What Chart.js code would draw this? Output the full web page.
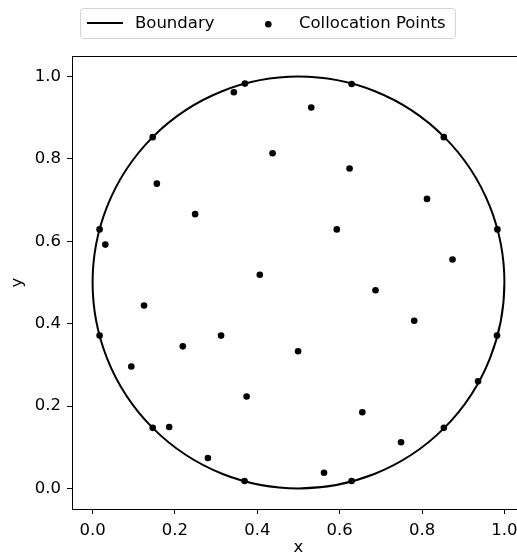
<!DOCTYPE html>
<html>
<head>
<meta charset="utf-8">
<script src="https://cdn.jsdelivr.net/npm/chart.js@4.4.1/dist/chart.umd.min.js"></script>
<style>
  html, body { margin: 0; padding: 0; background: #fff; overflow: hidden; }
  #wrap { position: absolute; left: 0; top: 0; width: 530px; height: 556px; }
</style>
</head>
<body>
<div id="wrap"><canvas id="collocation"></canvas></div>
<script>
// tick labels on both axes
const xTicks = [0.0, 0.2, 0.4, 0.6, 0.8, 1.0];
const yTicks = [0.0, 0.2, 0.4, 0.6, 0.8, 1.0];

// boundary circle
const circleCenter = [0.5, 0.5];
const circleRadius = 0.5;

// collocation points
const pointsX = [0.370, 0.629, 0.146, 0.853, 0.017, 0.983, 0.017, 0.982, 0.146, 0.853, 0.369, 0.629, 0.936,
                 0.343, 0.437, 0.156, 0.249, 0.031, 0.406, 0.531, 0.624, 0.812, 0.593, 0.874, 0.125,
                 0.312, 0.219, 0.094, 0.499, 0.374, 0.186, 0.280, 0.687, 0.781, 0.655, 0.749, 0.562];
const pointsY = [0.983, 0.982, 0.853, 0.853, 0.629, 0.629, 0.371, 0.371, 0.147, 0.147, 0.018, 0.018, 0.260,
                 0.962, 0.814, 0.740, 0.666, 0.592, 0.519, 0.925, 0.777, 0.703, 0.629, 0.556, 0.444,
                 0.371, 0.345, 0.296, 0.333, 0.223, 0.149, 0.074, 0.481, 0.407, 0.185, 0.112, 0.038];

const FONT = '"DejaVu Sans", sans-serif';
Chart.defaults.font.family = FONT;
Chart.defaults.font.size = 16.5;
Chart.defaults.color = '#000';

// circle drawn through the chart's scales, under the points
const boundaryPlugin = {
  id: 'boundary',
  beforeDatasetsDraw(chart) {
    const {ctx, scales: {x, y}} = chart;
    const cx = x.getPixelForValue(circleCenter[0]);
    const cy = y.getPixelForValue(circleCenter[1]);
    const rx = x.getPixelForValue(circleCenter[0] + circleRadius) - cx;
    const ry = cy - y.getPixelForValue(circleCenter[1] + circleRadius);
    ctx.save();
    ctx.beginPath();
    ctx.ellipse(cx, cy, rx, ry, 0, 0, Math.PI * 2);
    ctx.strokeStyle = '#000';
    ctx.lineWidth = 2;
    ctx.stroke();
    ctx.restore();
  }
};

// axes frame + matplotlib style legend box
const framePlugin = {
  id: 'frame',
  afterDraw(chart) {
    const {ctx, chartArea: a} = chart;
    ctx.save();
    ctx.strokeStyle = '#000';
    ctx.lineWidth = 1;
    ctx.strokeRect(a.left + 0.5, a.top + 0.5, a.right - a.left, a.bottom - a.top);

    // legend
    const bx = 80.5, by = 8.5, bw = 375, bh = 30, r = 3;
    ctx.beginPath();
    ctx.roundRect(bx, by, bw, bh, r);
    ctx.fillStyle = 'rgba(255,255,255,0.8)';
    ctx.fill();
    ctx.strokeStyle = '#d5d5d5';
    ctx.stroke();

    ctx.beginPath();
    ctx.moveTo(87, 23);
    ctx.lineTo(123, 23);
    ctx.strokeStyle = '#000';
    ctx.lineWidth = 2;
    ctx.stroke();

    ctx.beginPath();
    ctx.arc(268.3, 24.3, 3.3, 0, Math.PI * 2);
    ctx.fillStyle = '#000';
    ctx.fill();

    ctx.font = '16.5px ' + FONT;
    ctx.textBaseline = 'middle';
    ctx.textAlign = 'left';
    ctx.fillText('Boundary', 135, 24);
    ctx.fillText('Collocation Points', 299, 24);
    ctx.restore();
  }
};

new Chart(document.getElementById('collocation'), {
  type: 'scatter',
  data: {
    datasets: [{
      label: 'Collocation Points',
      data: pointsX.map((v, i) => ({x: v, y: pointsY[i]})),
      backgroundColor: '#000',
      borderColor: '#000',
      pointRadius: 3.3,
      pointBorderWidth: 0,
      pointHoverRadius: 3.3
    }]
  },
  options: {
    responsive: true,
    maintainAspectRatio: false,
    animation: false,
    events: [],
    layout: {padding: {top: 56, right: 5, left: 0, bottom: 0}},
    plugins: {legend: {display: false}, tooltip: {enabled: false}},
    scales: {
      x: {
        type: 'linear',
        min: -0.05,
        max: 1.05,
        afterBuildTicks: s => { s.ticks = xTicks.map(v => ({value: v})); },
        afterFit: s => { s.height = 47; },
        ticks: {padding: 7, callback: v => v.toFixed(1), maxRotation: 0, autoSkip: false},
        grid: {drawOnChartArea: false, drawTicks: true, tickLength: 5, color: '#000'},
        border: {display: false},
        title: {display: true, text: 'x', padding: {top: 0, bottom: -2}}
      },
      y: {
        type: 'linear',
        min: -0.05,
        max: 1.05,
        afterBuildTicks: s => { s.ticks = yTicks.map(v => ({value: v})); },
        afterFit: s => { s.width = 72; },
        ticks: {padding: 6, callback: v => v.toFixed(1), autoSkip: false},
        grid: {drawOnChartArea: false, drawTicks: true, tickLength: 5, color: '#000'},
        border: {display: false},
        title: {display: true, text: 'y', padding: {top: 8, bottom: 0}}
      }
    }
  },
  plugins: [boundaryPlugin, framePlugin]
});
</script>
</body>
</html>
